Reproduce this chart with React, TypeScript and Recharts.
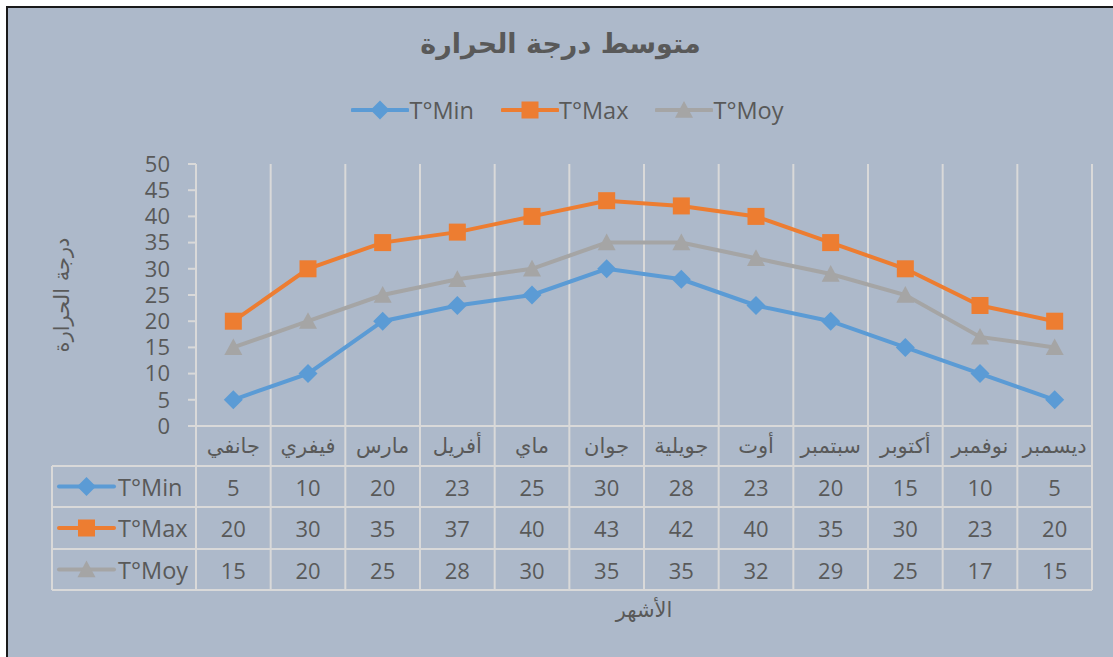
import React from "react"
import {
  LineChart,
  Line,
  XAxis,
  YAxis,
  CartesianGrid,
  Legend,
} from "recharts"

const MONTHS = [
  "جانفي",
  "فيفري",
  "مارس",
  "أفريل",
  "ماي",
  "جوان",
  "جويلية",
  "أوت",
  "سبتمبر",
  "أكتوبر",
  "نوفمبر",
  "ديسمبر",
]

const T_MIN = [5, 10, 20, 23, 25, 30, 28, 23, 20, 15, 10, 5]
const T_MAX = [20, 30, 35, 37, 40, 43, 42, 40, 35, 30, 23, 20]
const T_MOY = [15, 20, 25, 28, 30, 35, 35, 32, 29, 25, 17, 15]

const Y_TICKS = [0, 5, 10, 15, 20, 25, 30, 35, 40, 45, 50]

const TITLE = "متوسط درجة الحرارة"
const Y_TITLE = "درجة الحرارة"
const X_TITLE = "الأشهر"

const SERIES = [
  { key: "min", name: "T°Min", color: "#5B9BD5", shape: "diamond", values: T_MIN },
  { key: "max", name: "T°Max", color: "#ED7D31", shape: "square", values: T_MAX },
  { key: "moy", name: "T°Moy", color: "#A5A5A5", shape: "triangle", values: T_MOY },
]

const data = MONTHS.map((month, i) => ({
  month,
  min: T_MIN[i],
  max: T_MAX[i],
  moy: T_MOY[i],
}))

const W = 1105
const H = 649
const BG = "#ADB9CA"
const TEXT = "#595959"
const GRID = "#D9D9D9"
const LATIN = "'Open Sans', 'DejaVu Sans', sans-serif"
const ARABIC = "'DejaVu Sans', sans-serif"

const MARGIN = { top: 156, right: 21, bottom: 31, left: 40 }
const Y_AXIS_W = 148
const PLOT_W = W - MARGIN.left - MARGIN.right - Y_AXIS_W
const BAND = PLOT_W / MONTHS.length

// table rows below the axis (offsets from the axis line)
const HEADER_H = 40
const ROW_LINES = [40, 81, 123, 164]
const LEGEND_COL_W = 144

function Marker({ shape, cx, cy, color }: { shape: string; cx: number; cy: number; color: string }) {
  if (shape === "diamond") {
    const r = 9.5
    return (
      <path
        d={`M${cx},${cy - r}L${cx + r},${cy}L${cx},${cy + r}L${cx - r},${cy}Z`}
        fill={color}
      />
    )
  }
  if (shape === "square") {
    const r = 8.5
    return <rect x={cx - r} y={cy - r} width={r * 2} height={r * 2} fill={color} />
  }
  const r = 9
  return (
    <path
      d={`M${cx},${cy - r}L${cx + r},${cy + r * 0.85}L${cx - r},${cy + r * 0.85}Z`}
      fill={color}
    />
  )
}

function LegendKey({ shape, color, x, y }: { shape: string; color: string; x: number; y: number }) {
  return (
    <g>
      <line x1={x} y1={y} x2={x + 55} y2={y} stroke={color} strokeWidth={4} strokeLinecap="round" />
      <Marker shape={shape} cx={x + 27.5} cy={y} color={color} />
    </g>
  )
}

function renderLegend() {
  return (
    <div style={{ display: "flex", justifyContent: "center", gap: 27 }}>
      {SERIES.map((s) => (
        <div key={s.key} style={{ display: "flex", alignItems: "center" }}>
          <svg width={58} height={26}>
            <LegendKey shape={s.shape} color={s.color} x={1.5} y={13} />
          </svg>
          <span style={{ fontFamily: LATIN, fontSize: 23.5, color: TEXT, lineHeight: "26px" }}>
            {s.name}
          </span>
        </div>
      ))}
    </div>
  )
}

function TableTick(props: any) {
  const { x, y, payload, index } = props
  const band = BAND
  const left = x - band / 2
  const right = x + band / 2
  const last = ROW_LINES[ROW_LINES.length - 1]
  return (
    <g>
      <text
        x={x}
        y={y + HEADER_H / 2}
        textAnchor="middle"
        dominantBaseline="central"
        fontFamily={ARABIC}
        fontSize={21}
        fill={TEXT}
      >
        {payload.value}
      </text>
      {SERIES.map((s, r) => (
        <text
          key={s.key}
          x={x}
          y={y + (ROW_LINES[r] + ROW_LINES[r + 1]) / 2}
          textAnchor="middle"
          dominantBaseline="central"
          fontFamily={LATIN}
          fontSize={22}
          fill={TEXT}
        >
          {s.values[index]}
        </text>
      ))}
      <line x1={right} y1={y} x2={right} y2={y + last} stroke={GRID} strokeWidth={2} />
      {index === 0 && (
        <g>
          <line x1={left} y1={y} x2={left} y2={y + last} stroke={GRID} strokeWidth={2} />
          <line
            x1={left - LEGEND_COL_W}
            y1={y + ROW_LINES[0]}
            x2={left - LEGEND_COL_W}
            y2={y + last}
            stroke={GRID}
            strokeWidth={2}
          />
          {SERIES.map((s, r) => {
            const cy = y + (ROW_LINES[r] + ROW_LINES[r + 1]) / 2
            return (
              <g key={s.key}>
                <LegendKey shape={s.shape} color={s.color} x={left - LEGEND_COL_W + 7} y={cy} />
                <text
                  x={left - LEGEND_COL_W + 66}
                  y={cy}
                  dominantBaseline="central"
                  fontFamily={LATIN}
                  fontSize={23.5}
                  fill={TEXT}
                >
                  {s.name}
                </text>
              </g>
            )
          })}
          {ROW_LINES.map((ry) => (
            <line
              key={ry}
              x1={left - LEGEND_COL_W}
              y1={y + ry}
              x2={left + band * MONTHS.length}
              y2={y + ry}
              stroke={GRID}
              strokeWidth={2}
            />
          ))}
        </g>
      )}
    </g>
  )
}

export default function App() {
  return (
    <div
      style={{
        position: "fixed",
        left: 8,
        top: 8,
        width: W,
        height: H,
        background: BG,
        outline: "2px solid #1a1a1a",
      }}
    >
      <div
        style={{
          position: "absolute",
          top: 20,
          left: 0,
          width: W,
          textAlign: "center",
          fontFamily: ARABIC,
          fontWeight: "bold",
          fontSize: 27,
          color: TEXT,
          direction: "rtl",
        }}
      >
        {TITLE}
      </div>

      <LineChart width={W} height={H} data={data} margin={MARGIN}>
        <CartesianGrid
          horizontal={false}
          stroke={GRID}
          strokeWidth={2}
          verticalCoordinatesGenerator={({ offset }: any) =>
            MONTHS.map((_, i) => offset.left + ((i + 1) * offset.width) / MONTHS.length)
          }
        />

        <XAxis
          dataKey="month"
          height={200}
          interval={0}
          padding={{ left: BAND / 2, right: BAND / 2 }}
          tickLine={false}
          tickSize={0}
          tickMargin={0}
          axisLine={{ stroke: GRID, strokeWidth: 2 }}
          tick={<TableTick />}
          label={{
            content: ({ viewBox }: any) => (
              <text
                x={viewBox.x + viewBox.width / 2}
                y={viewBox.y + 184}
                textAnchor="middle"
                dominantBaseline="central"
                fontFamily={ARABIC}
                fontSize={21}
                fill={TEXT}
              >
                {X_TITLE}
              </text>
            ),
          }}
        />

        <YAxis
          width={Y_AXIS_W}
          domain={[0, 50]}
          ticks={Y_TICKS}
          interval={0}
          tickSize={8}
          tickMargin={18}
          axisLine={{ stroke: GRID, strokeWidth: 2 }}
          tickLine={{ stroke: GRID, strokeWidth: 2 }}
          tick={{ fontFamily: LATIN, fontSize: 22, fill: TEXT }}
          label={{
            content: ({ viewBox }: any) => {
              const cx = viewBox.x + 14
              const cy = viewBox.y + viewBox.height / 2
              return (
                <text
                  x={cx}
                  y={cy}
                  transform={`rotate(-90 ${cx} ${cy})`}
                  textAnchor="middle"
                  dominantBaseline="central"
                  fontFamily={ARABIC}
                  fontSize={21}
                  fill={TEXT}
                >
                  {Y_TITLE}
                </text>
              )
            },
          }}
        />

        <Legend
          verticalAlign="middle"
          align="center"
          content={renderLegend}
          wrapperStyle={{ top: 89, left: 7, width: W }}
        />

        {SERIES.map((s) => (
          <Line
            key={s.key}
            dataKey={s.key}
            name={s.name}
            stroke={s.color}
            strokeWidth={4}
            isAnimationActive={false}
            dot={(p: any) => (
              <Marker key={`${s.key}-${p.index}`} shape={s.shape} cx={p.cx} cy={p.cy} color={s.color} />
            )}
            activeDot={false}
          />
        ))}
      </LineChart>
    </div>
  )
}
